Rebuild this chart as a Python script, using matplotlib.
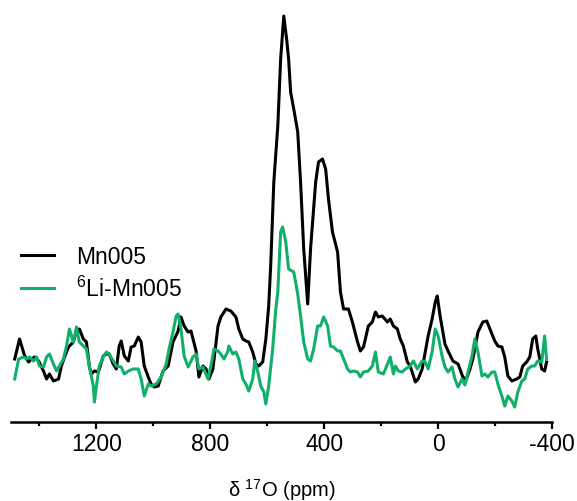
import numpy as np
import matplotlib
matplotlib.use("Agg")
import matplotlib.pyplot as plt

plt.rcParams['font.family'] = ['Liberation Sans', 'DejaVu Sans']
plt.rcParams['mathtext.fontset'] = 'custom'
plt.rcParams['mathtext.rm'] = 'Liberation Sans'
plt.rcParams['mathtext.it'] = 'Liberation Sans:italic'
plt.rcParams['axes.unicode_minus'] = False

# 17O spectra, chemical shift (ppm) and intensity (arb. units)
mn005_ppm = [1487, 1470, 1452, 1438, 1428, 1417, 1403, 1386, 1375, 1365, 1351, 1333,
             1323, 1312, 1298, 1281, 1270, 1260, 1246, 1235, 1225, 1218, 1207, 1193,
             1176, 1165, 1155, 1141, 1130, 1120, 1113, 1102, 1088, 1078, 1067, 1053,
             1043, 1032, 1018, 1008, 997, 983, 966, 948, 931, 913, 903, 892, 878, 868,
             850, 840, 826, 815, 805, 791, 773, 763, 745, 728, 710, 700, 686, 675, 665,
             651, 640, 630, 616, 605, 595, 588, 577, 563, 553, 542, 532, 525, 518, 507,
             493, 483, 472, 458, 448, 430, 420, 406, 395, 385, 371, 353, 343, 332, 315,
             301, 283, 273, 262, 245, 231, 220, 210, 196, 178, 168, 157, 143, 133, 122,
             108, 98, 80, 70, 56, 45, 35, 21, 10, 3, -7, -24, -35, -52, -70, -87, -98,
             -112, -122, -140, -157, -171, -182, -199, -210, -224, -234, -245, -259,
             -276, -287, -297, -311, -322, -332, -343, -350, -364, -374, -381]
mn005_int = [63, 83, 66, 60, 63, 65, 61, 51, 43, 48, 41, 43,
             56, 65, 75, 80, 91, 93, 83, 80, 56, 48, 51, 50,
             66, 68, 68, 58, 53, 76, 81, 66, 61, 75, 76, 85,
             80, 56, 45, 38, 35, 36, 51, 56, 80, 91, 105, 96, 90, 91,
             71, 45, 56, 53, 43, 53, 96, 105, 113, 111, 105, 93, 83, 81, 80,
             70, 58, 56, 60, 83, 116, 156, 240, 296, 363, 406, 383, 363, 330, 313,
             290, 240, 173, 118, 173, 240, 260, 263, 253, 223, 190, 170, 130, 113, 113,
             100, 80, 71, 75, 96, 100, 110, 105, 106, 100, 103, 96, 93, 83, 76,
             60, 56, 40, 43, 53, 70, 86, 103, 120, 126, 106, 78, 71, 61, 58, 45, 42,
             53, 63, 90, 100, 101, 93, 81, 76, 75, 65, 46, 41,
             43, 45, 56, 60, 65, 83, 86, 73, 53, 51, 60]

li_ppm = [1487, 1473, 1456, 1445, 1435, 1421, 1410, 1400, 1386, 1375, 1365, 1351,
          1340, 1330, 1316, 1305, 1295, 1281, 1270, 1260, 1246, 1235, 1225, 1211,
          1207, 1200, 1190, 1176, 1165, 1155, 1141, 1130, 1113, 1102, 1088, 1071,
          1053, 1043, 1032, 1018, 1008, 990, 973, 955, 945, 931, 920, 913, 903, 892,
          878, 861, 850, 840, 826, 808, 798, 787, 773, 763, 752, 738, 735, 721, 710,
          700, 686, 675, 665, 651, 644, 633, 623, 612, 605, 595, 581, 570, 563, 553,
          546, 535, 525, 507, 493, 483, 472, 458, 448, 437, 423, 413, 402, 388, 378,
          367, 353, 343, 332, 318, 308, 297, 283, 273, 262, 245, 231, 220, 210, 192,
          178, 168, 157, 150, 140, 126, 115, 98, 87, 73, 56, 45, 35, 21, 10, 0, -14,
          -24, -35, -49, -59, -70, -84, -94, -105, -119, -129, -140, -154, -164, -175,
          -189, -199, -210, -224, -234, -245, -259, -269, -280, -294, -304, -315,
          -329, -339, -350, -364, -374, -381]
li_int = [43, 63, 65, 63, 65, 61, 65, 56, 55, 65, 68, 58,
          51, 56, 63, 76, 93, 80, 95, 80, 76, 73, 56, 36,
          20, 36, 56, 65, 70, 68, 61, 56, 55, 48, 51, 53,
          53, 43, 26, 38, 36, 38, 45, 58, 73, 90, 106, 108, 93, 66,
          55, 65, 68, 53, 55, 43, 56, 73, 71, 68, 63, 71, 76, 68, 70,
          63, 43, 38, 31, 43, 61, 50, 36, 30, 18, 36, 73, 113, 130, 190,
          195, 180, 153, 150, 128, 106, 80, 63, 61, 73, 96, 96, 105, 96, 76,
          75, 71, 71, 63, 53, 50, 51, 50, 45, 50, 51, 56, 70, 50, 48,
          58, 65, 48, 56, 51, 50, 53, 56, 61, 53, 61, 60, 53, 70, 93, 86, 66,
          55, 50, 55, 43, 35, 43, 37, 50, 66, 83, 70, 46, 48, 45,
          50, 50, 38, 26, 16, 26, 21, 15, 30, 41, 43, 53,
          56, 56, 61, 60, 86, 63]

labels = ["Mn005", "$^6$Li-Mn005"]
colors = ["black", "#10b06b"]
xticks = [1200, 800, 400, 0, -400]
minor_xticks = [1400, 1000, 600, 200, -200]

fig = plt.figure(figsize=(5.77, 5.02), dpi=100)
ax = fig.add_axes([11 / 577, 79 / 502, 541 / 577, 413 / 502])

ax.plot(mn005_ppm, mn005_int, color=colors[0], lw=2.2, label=labels[0],
        solid_joinstyle='round')
ax.plot(li_ppm, li_int, color=colors[1], lw=2.2, label=labels[1],
        solid_joinstyle='round')

ax.set_xlim(1500, -400)
ax.set_ylim(0, 413)

for s in ['left', 'right', 'top']:
    ax.spines[s].set_visible(False)
ax.spines['bottom'].set_linewidth(1.8)
ax.set_yticks([])
ax.set_xticks(xticks)
ax.set_xticks(minor_xticks, minor=True)
ax.tick_params(axis='x', which='major', length=5, width=1.6, pad=2.5, labelsize=16.5)
ax.tick_params(axis='x', which='minor', length=3, width=1.6)
ax.set_xlabel("δ $^{17}$O (ppm)", fontsize=14.5, labelpad=15)

ax.legend(loc='upper left', bbox_to_anchor=(21 / 577, 1 - 246 / 502),
          bbox_transform=fig.transFigure, frameon=False, fontsize=16.5,
          borderpad=0, borderaxespad=0, handlelength=1.45, handletextpad=0.95,
          labelspacing=0.35)

fig.savefig("out.png", dpi=100)
